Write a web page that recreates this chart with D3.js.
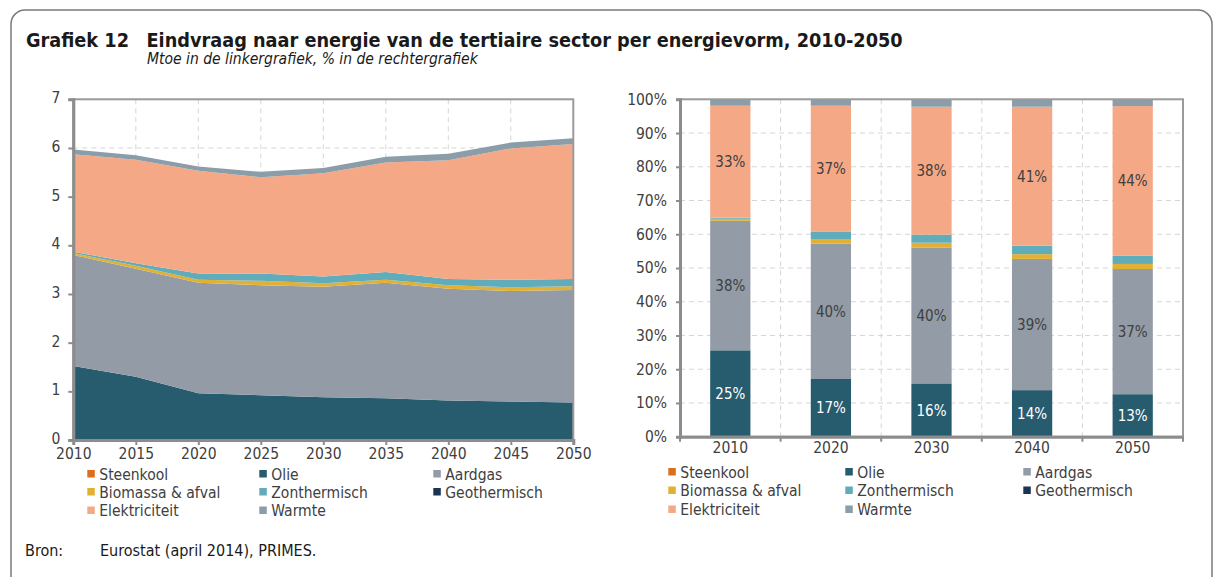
<!DOCTYPE html>
<html><head><meta charset="utf-8">
<script src="https://cdn.jsdelivr.net/npm/d3@7"></script>
<style>
body{margin:0;background:#fff;}
svg text{font-family:"DejaVu Sans Condensed","DejaVu Sans",sans-serif;font-stretch:condensed;}
</style></head><body>
<svg id="c" width="1215" height="577"></svg>
<script>
// ---------- DATA ----------
const series = ["Steenkool","Olie","Aardgas","Biomassa & afval","Zonthermisch","Geothermisch","Elektriciteit","Warmte"];
const colors = ["#DC6F1E","#275B6E","#929BA6","#E2B133","#60ACBB","#1B3452","#F4A886","#8A9DA8"];
// left chart: Mtoe
const years = [2010,2015,2020,2025,2030,2035,2040,2045,2050];
const steenkool   = [0.01,0.01,0,0,0,0,0,0,0];
const olie        = [1.51,1.29,0.96,0.92,0.88,0.86,0.81,0.79,0.77];
const aardgas     = [2.28,2.22,2.27,2.26,2.27,2.37,2.30,2.27,2.31];
const biomassa    = [0.04,0.06,0.06,0.09,0.07,0.06,0.07,0.08,0.08];
const zonthermisch= [0.03,0.05,0.13,0.15,0.14,0.16,0.13,0.15,0.15];
const geothermisch= [0,0,0,0,0,0,0,0,0];
const elektriciteit=[2.00,2.13,2.11,1.98,2.12,2.25,2.44,2.70,2.77];
const warmte      = [0.10,0.09,0.09,0.11,0.11,0.12,0.13,0.12,0.12];
const leftTicks = [0,1,2,3,4,5,6,7];
// right chart: shares (%)
const shareYears = ["2010","2020","2030","2040","2050"];
const shSteenkool   = [0.2,0,0,0,0];
const shOlie        = [25.4,17.1,15.8,13.8,12.6];
const shAardgas     = [38.4,40.1,40.3,38.9,37.1];
const shBiomassa    = [0.6,1.4,1.4,1.4,1.5];
const shZonthermisch= [0.3,2.1,2.4,2.5,2.4];
const shGeothermisch= [0,0,0,0,0];
const shElektriciteit=[33.2,37.4,37.9,41.2,44.4];
const shWarmte      = [1.9,1.9,2.2,2.2,2.0];
const rightTicks = [0,10,20,30,40,50,60,70,80,90,100];
const labelled = ["Olie","Aardgas","Elektriciteit"];

// ---------- SETUP ----------
const svg = d3.select("#c");
const gridCol = "#d6d6d6", axisCol = "#8c8c8c", txtCol = "#404040";

svg.append("rect").attr("x",11).attr("y",10).attr("width",1201).attr("height",620)
  .attr("rx",14).attr("fill","none").attr("stroke","#7a7a7a").attr("stroke-width",1.5);

svg.append("text").attr("x",26).attr("y",47).attr("font-size",19.7).attr("font-weight","bold")
  .attr("fill","#1a1a1a").text("Grafiek 12");
svg.append("text").attr("x",146.5).attr("y",47).attr("font-size",19.7).attr("font-weight","bold")
  .attr("fill","#1a1a1a").text("Eindvraag naar energie van de tertiaire sector per energievorm, 2010-2050");
svg.append("text").attr("x",147).attr("y",64).attr("font-size",15.5).attr("font-style","italic")
  .attr("fill","#1a1a1a").text("Mtoe in de linkergrafiek, % in de rechtergrafiek");
svg.append("text").attr("x",25).attr("y",556).attr("font-size",16).attr("fill","#1a1a1a").text("Bron:");
svg.append("text").attr("x",100).attr("y",556).attr("font-size",16).attr("fill","#1a1a1a").text("Eurostat (april 2014), PRIMES.");

// ---------- LEFT CHART ----------
const L = {x0:73.3, x1:573.3, y0:440, y1:99.3};
const lx = d3.scaleLinear().domain([2010,2050]).range([L.x0,L.x1]);
const ly = d3.scaleLinear().domain([0,7]).range([L.y0,L.y1]);
const lg = svg.append("g");
lg.selectAll(".hg").data(leftTicks.slice(1)).join("line")
  .attr("x1",L.x0).attr("x2",L.x1).attr("y1",d=>ly(d)).attr("y2",d=>ly(d))
  .attr("stroke",gridCol).attr("stroke-dasharray","5,4");
lg.selectAll(".vg").data(years.slice(1,-1)).join("line")
  .attr("x1",d=>lx(d)).attr("x2",d=>lx(d)).attr("y1",L.y1).attr("y2",L.y0)
  .attr("stroke",gridCol).attr("stroke-dasharray","5,4");
const leftArrays = [steenkool,olie,aardgas,biomassa,zonthermisch,geothermisch,elektriciteit,warmte];
const leftRows = years.map((y,i)=>{const o={year:y}; series.forEach((s,j)=>o[s]=leftArrays[j][i]); return o;});
const lstack = d3.stack().keys(series)(leftRows);
const area = d3.area().x(d=>lx(d.data.year)).y0(d=>ly(d[0])).y1(d=>ly(d[1]));
lg.selectAll(".ar").data(lstack).join("path").attr("d",area)
  .attr("fill",(d,i)=>colors[i]);
lg.append("rect").attr("x",L.x0).attr("y",L.y1).attr("width",L.x1-L.x0).attr("height",L.y0-L.y1)
  .attr("fill","none").attr("stroke","#9a9a9a").attr("stroke-width",2);
const lyAxis = lg.append("g").attr("transform",`translate(${L.x0},0)`)
  .call(d3.axisLeft(ly).tickValues(leftTicks).tickSize(5).tickPadding(8).tickFormat(d3.format("d")));
const lxAxis = lg.append("g").attr("transform",`translate(0,${L.y0})`)
  .call(d3.axisBottom(lx).tickValues(years).tickSize(5).tickPadding(3).tickFormat(d3.format("d")));
[lyAxis,lxAxis].forEach(a=>{
  a.select(".domain").attr("stroke",axisCol).attr("stroke-width",3);
  a.selectAll(".tick line").attr("stroke",axisCol).attr("stroke-width",2);
  a.selectAll(".tick text").attr("fill",txtCol).attr("font-size",15.5).attr("font-family",null);
});
lyAxis.selectAll(".tick text").attr("dy","0.22em");

// ---------- RIGHT CHART ----------
const R = {x0:680, x1:1183, y0:436.7, y1:99.3};
const rx = d3.scaleBand().domain(shareYears).range([R.x0,R.x1]).paddingInner(0.6).paddingOuter(0.3);
const ry = d3.scaleLinear().domain([0,100]).range([R.y0,R.y1]);
const rg = svg.append("g");
rg.selectAll(".hg").data(rightTicks.slice(1)).join("line")
  .attr("x1",R.x0).attr("x2",R.x1).attr("y1",d=>ry(d)).attr("y2",d=>ry(d))
  .attr("stroke",gridCol).attr("stroke-dasharray","5,4");
const bounds = shareYears.slice(1).map(y=>rx(y)-rx.step()*rx.paddingInner()/2);
rg.selectAll(".vg").data(bounds).join("line")
  .attr("x1",d=>d).attr("x2",d=>d).attr("y1",R.y1).attr("y2",R.y0)
  .attr("stroke",gridCol).attr("stroke-dasharray","5,4");
const rightArrays = [shSteenkool,shOlie,shAardgas,shBiomassa,shZonthermisch,shGeothermisch,shElektriciteit,shWarmte];
const rightRows = shareYears.map((y,i)=>{const o={year:y}; series.forEach((s,j)=>o[s]=rightArrays[j][i]); return o;});
const rstack = d3.stack().keys(series)(rightRows);
const layers = rg.selectAll(".layer").data(rstack).join("g").attr("fill",(d,i)=>colors[i]);
layers.selectAll("rect").data(d=>d).join("rect")
  .attr("x",d=>rx(d.data.year)).attr("width",rx.bandwidth())
  .attr("y",d=>ry(d[1])).attr("height",d=>ry(d[0])-ry(d[1]));
rstack.filter(s=>labelled.includes(s.key)).forEach(s=>{
  rg.selectAll(null).data(s).join("text")
    .attr("x",d=>rx(d.data.year)+rx.bandwidth()/2)
    .attr("y",d=>ry((d[0]+d[1])/2)+5.5)
    .attr("text-anchor","middle").attr("font-size",15)
    .attr("fill",s.key==="Olie"?"#ffffff":txtCol)
    .text(d=>Math.round(d[1]-d[0])+"%");
});
rg.append("rect").attr("x",R.x0).attr("y",R.y1).attr("width",R.x1-R.x0).attr("height",R.y0-R.y1)
  .attr("fill","none").attr("stroke","#9a9a9a").attr("stroke-width",2);
const ryAxis = rg.append("g").attr("transform",`translate(${R.x0},0)`)
  .call(d3.axisLeft(ry).tickValues(rightTicks).tickSize(4).tickPadding(9).tickFormat(d=>d+"%"));
const rxAxis = rg.append("g").attr("transform",`translate(0,${R.y0})`)
  .call(d3.axisBottom(rx).tickSize(0).tickPadding(5));
rg.selectAll(".bt").data([R.x0,...bounds,R.x1]).join("line")
  .attr("x1",d=>d).attr("x2",d=>d).attr("y1",R.y0).attr("y2",R.y0+5)
  .attr("stroke",axisCol).attr("stroke-width",2);
[ryAxis,rxAxis].forEach(a=>{
  a.select(".domain").attr("stroke",axisCol).attr("stroke-width",3);
  a.selectAll(".tick line").attr("stroke",axisCol).attr("stroke-width",2);
  a.selectAll(".tick text").attr("fill",txtCol).attr("font-size",15.5).attr("font-family",null);
});

// ---------- LEGENDS ----------
function legend(x0, colX, rowY){
  const g = svg.append("g");
  series.forEach((s,i)=>{
    const cx = x0 + colX[i%3], cy = rowY[Math.floor(i/3)];
    g.append("rect").attr("x",cx).attr("y",cy-4).attr("width",7.5).attr("height",7.5).attr("fill",colors[i]);
    g.append("text").attr("x",cx+12).attr("y",cy+5.5).attr("font-size",15.5).attr("fill",txtCol).text(s);
  });
}
legend(87.3,[0,172,346],[474,492,510.5]);
legend(668.3,[0,177,355],[472,490.5,509.5]);
</script></body></html>
